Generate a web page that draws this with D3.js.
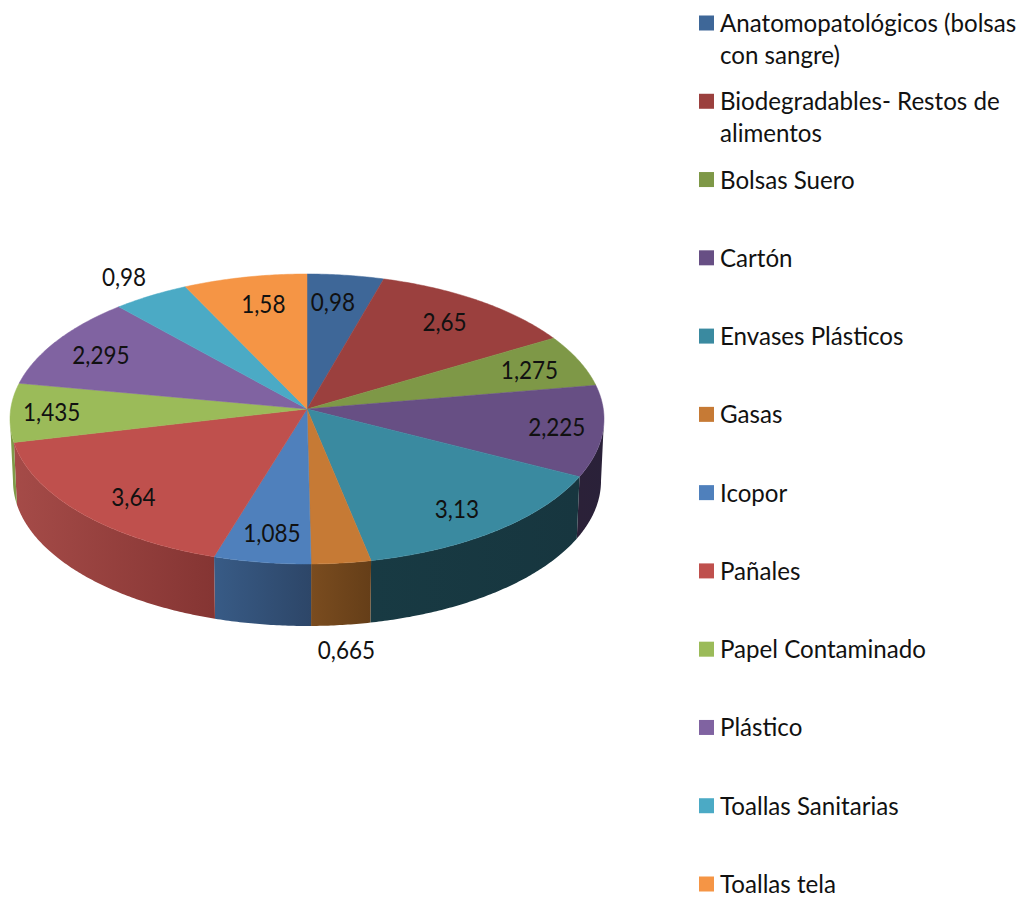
<!DOCTYPE html>
<html>
<head>
<meta charset="utf-8">
<script src="https://cdn.jsdelivr.net/npm/d3@7"></script>
<style>
  html, body { margin: 0; padding: 0; background: #fff; }
  text { font-family: Lato, "Open Sans", sans-serif; fill: #111; }
</style>
</head>
<body>
<div id="chart"></div>
<script>
// Values
var categories = ["Anatomopatológicos (bolsas con sangre)", "Biodegradables- Restos de alimentos",
  "Bolsas Suero", "Cartón", "Envases Plásticos", "Gasas", "Icopor", "Pañales",
  "Papel Contaminado", "Plástico", "Toallas Sanitarias", "Toallas tela"];
var values = [0.98, 2.65, 1.275, 2.225, 3.13, 0.665, 1.085, 3.64, 1.435, 2.295, 0.98, 1.58];
var valueLabels = ["0,98", "2,65", "1,275", "2,225", "3,13", "0,665", "1,085", "3,64", "1,435", "2,295", "0,98", "1,58"];

// Top face colours, and side colours left -> right of the gradient
var topColors = ["#3e6798", "#9b403e", "#7e9847", "#674f84", "#3a8aa0", "#c67a35",
  "#4f80bc", "#bf504d", "#9bbb59", "#8063a1", "#4baac5", "#f59545"];
var sideLeft = ["#2a3f5c", "#5e2726", "#4c5c2b", "#2b2138", "#183a43", "#7a4c1f",
  "#385b86", "#a54b48", "#7f9a48", "#4e3d63", "#2d6878", "#955a2a"];
var sideRight = ["#2a3f5c", "#5e2726", "#4c5c2b", "#2a2139", "#17363f", "#653e18",
  "#2d4668", "#853533", "#7f9a48", "#4e3d63", "#2d6878", "#955a2a"];

// Label nudges from the default spot, 0.8 of the way out along the slice
var labelShift = [[-5, 0], [0, 0], [5, 0], [13, 0], [-2, 3], [12, 118],
  [1, 1], [8, 5], [-18, 0], [-6, 1], [-58, -41], [6, 0]];

var width = 1030;
var height = 900;

// Pie geometry: rim ellipse, the off-centre apex perspective gives, and the depth
var cx = 307, cy = 419, rx = 297, ry = 145;
var apexY = 409, depth = 62, bottomRx = 294;

var svg = d3.select("#chart").append("svg")
  .attr("width", width)
  .attr("height", height);
var defs = svg.append("defs");

var arcs = d3.pie().sort(null).value(d => d)(values);

// 3D view squeezes the angles a little: drawn angle = true angle - 4deg * sin(angle)
function viewAngle(a) {
  return a - (4 * Math.PI / 180) * Math.sin(a);
}
function rimX(phi) { return cx + rx * Math.sin(phi); }
function rimY(phi) { return cy - ry * Math.cos(phi); }

var line = d3.line();

function samples(a0, a1) {
  var n = Math.max(2, Math.ceil((a1 - a0) / 0.01));
  return d3.range(n + 1).map(i => a0 + (a1 - a0) * i / n);
}

// Sides first, only the front half of the rim shows
arcs.forEach(function(d, i) {
  var a0 = Math.max(viewAngle(d.startAngle), Math.PI / 2);
  var a1 = Math.min(viewAngle(d.endAngle), Math.PI * 3 / 2);
  if (a1 <= a0) return;

  var pts = samples(a0, a1);
  var top = pts.map(a => [rimX(a), rimY(a)]);
  var bottom = pts.slice().reverse().map(a => [cx + bottomRx * Math.sin(a), rimY(a) + depth]);

  var grad = defs.append("linearGradient")
    .attr("id", "side" + i)
    .attr("gradientUnits", "userSpaceOnUse")
    .attr("x1", rimX(a1)).attr("y1", 0)
    .attr("x2", rimX(a0)).attr("y2", 0);
  grad.append("stop").attr("offset", 0).attr("stop-color", sideLeft[i]);
  grad.append("stop").attr("offset", 1).attr("stop-color", sideRight[i]);

  svg.append("path")
    .attr("d", line(top.concat(bottom)) + "Z")
    .attr("fill", "url(#side" + i + ")");
});

// Top faces
arcs.forEach(function(d, i) {
  var pts = samples(viewAngle(d.startAngle), viewAngle(d.endAngle))
    .map(a => [rimX(a), rimY(a)]);
  svg.append("path")
    .attr("d", line([[cx, apexY]].concat(pts)) + "Z")
    .attr("fill", topColors[i])
    .attr("stroke", topColors[i])
    .attr("stroke-width", 0.5);
});

// Value labels, squeezed sideways since the original font is narrower than Lato
svg.selectAll("text.value")
  .data(arcs)
  .enter()
  .append("text")
  .attr("class", "value")
  .attr("text-anchor", "middle")
  .attr("font-size", 25)
  .attr("transform", function(d, i) {
    var mid = viewAngle((d.startAngle + d.endAngle) / 2);
    var x = cx + 0.8 * (rimX(mid) - cx) + labelShift[i][0];
    var y = apexY + 0.8 * (rimY(mid) - apexY) + labelShift[i][1] + 9;
    return "translate(" + x + "," + y + ") scale(0.9,1)";
  })
  .text((d, i) => valueLabels[i]);

// Legend
var legendY = d3.scaleLinear().domain([0, categories.length - 1]).range([23, 884]);
var legendWidth = 320, legendLine = 32;

var legend = svg.selectAll("g.legend")
  .data(categories)
  .enter()
  .append("g")
  .attr("class", "legend")
  .attr("transform", (d, i) => "translate(699," + legendY(i) + ")");

legend.append("rect")
  .attr("x", 0)
  .attr("y", -7.5)
  .attr("width", 15)
  .attr("height", 15)
  .attr("fill", (d, i) => topColors[i]);

legend.append("text")
  .attr("font-size", 25)
  .attr("transform", "translate(21,0) scale(0.965,1)")
  .each(function(d) {
    // wrap on spaces, the long names take two lines
    var text = d3.select(this);
    var words = d.split(" ");
    var current = [];
    var row = 0;
    var tspan = text.append("tspan").attr("x", 0).attr("y", 9);
    words.forEach(function(w) {
      current.push(w);
      tspan.text(current.join(" "));
      if (tspan.node().getComputedTextLength() > legendWidth && current.length > 1) {
        current.pop();
        tspan.text(current.join(" "));
        current = [w];
        row += 1;
        tspan = text.append("tspan").attr("x", 0).attr("y", 9 + row * legendLine).text(w);
      }
    });
  });
</script>
</body>
</html>
